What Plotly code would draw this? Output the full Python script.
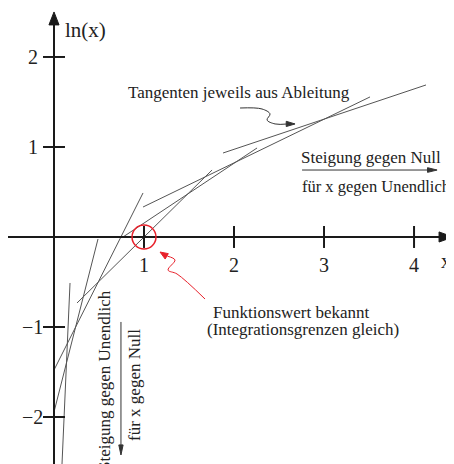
import plotly.graph_objects as go

# ---- data (data units) ----
x_ticks = [1, 2, 3, 4]
x_tick_labels = ["1", "2", "3", "4"]
y_ticks = [2, 1, -1, -2]
y_tick_labels = ["2", "1", "\u22121", "\u22122"]

# tangent segments: start / end points
tan_x0 = [1.878, 0.989, 0.767, 0.256, 0.0, 0.0, 0.178]
tan_y0 = [0.933, 0.333, 0.0, -0.733, -1.478, -1.944, -0.511]
tan_x1 = [4.133, 3.511, 2.256, 1.756, 0.989, 0.489, 0.089]
tan_y1 = [1.689, 1.556, 0.989, 0.744, 0.489, -0.022, -2.522]

# known function value ln(1) = 0
known_x = [1.0]
known_y = [0.0]

# curly annotation paths
tangent_arrow_x = [2.067, 2.311, 2.40, 2.367, 2.456, 2.60]
tangent_arrow_y = [1.433, 1.422, 1.367, 1.300, 1.256, 1.256]
red_arrow_x = [1.678, 1.367, 1.267, 1.344, 1.26]
red_arrow_y = [-0.689, -0.411, -0.367, -0.256, -0.213]

# the page adds an 8px body margin, so the figure is 8px smaller
W, H = 446, 456
XR = [-0.511, 4.444]
YR = [-2.522, 2.544]
FONT = "Liberation Serif"
TXT = "#222222"
AX = "#1a1a1a"

fig = go.Figure()

# tangent lines
for a, b, c, d in zip(tan_x0, tan_y0, tan_x1, tan_y1):
    fig.add_trace(go.Scatter(x=[a, c], y=[b, d], mode="lines",
                             line=dict(color="#555555", width=1), hoverinfo="skip"))

# curly black arrow
fig.add_trace(go.Scatter(x=tangent_arrow_x, y=tangent_arrow_y, mode="lines",
                         line=dict(color="#333333", width=1, shape="spline"), hoverinfo="skip"))
# curly red arrow
fig.add_trace(go.Scatter(x=red_arrow_x, y=red_arrow_y, mode="lines",
                         line=dict(color="#e8202a", width=1, shape="spline"), hoverinfo="skip"))

shapes = []
# axes
shapes.append(dict(type="line", x0=0, y0=YR[0], x1=0, y1=2.40, line=dict(color=AX, width=2)))
shapes.append(dict(type="line", x0=-0.52, y0=0, x1=4.33, y1=0, line=dict(color=AX, width=2)))
# arrowheads of axes
shapes.append(dict(type="path", path="M 0 2.5 L -0.056 2.356 L 0.056 2.356 Z",
                   fillcolor=AX, line=dict(color=AX, width=1)))
shapes.append(dict(type="path", path="M 4.433 0 L 4.278 0.056 L 4.278 -0.056 Z",
                   fillcolor=AX, line=dict(color=AX, width=1)))
# ticks
for t in x_ticks:
    shapes.append(dict(type="line", x0=t, x1=t, y0=-0.122, y1=0.122, line=dict(color=AX, width=2)))
for t in y_ticks:
    shapes.append(dict(type="line", x0=-0.122, x1=0.122, y0=t, y1=t, line=dict(color=AX, width=2)))
# red circle
for cx, cy in zip(known_x, known_y):
    shapes.append(dict(type="circle", x0=cx - 0.133, x1=cx + 0.133, y0=cy - 0.133, y1=cy + 0.133,
                       line=dict(color="#e8202a", width=1.5)))
# "Steigung gegen Null" arrow
shapes.append(dict(type="line", x0=2.756, y0=0.744, x1=4.20, y1=0.744, line=dict(color="#333333", width=1)))
shapes.append(dict(type="path", path="M 4.256 0.744 L 4.15 0.77 L 4.15 0.718 Z",
                   fillcolor="#333333", line=dict(color="#333333", width=1)))
# vertical arrow
shapes.append(dict(type="line", x0=0.744, y0=-0.944, x1=0.744, y1=-2.35, line=dict(color="#333333", width=1)))
shapes.append(dict(type="path", path="M 0.744 -2.422 L 0.72 -2.31 L 0.768 -2.31 Z",
                   fillcolor="#333333", line=dict(color="#333333", width=1)))
# curly arrow head (black)
shapes.append(dict(type="path", path="M 2.678 1.256 L 2.58 1.285 L 2.58 1.227 Z",
                   fillcolor="#333333", line=dict(color="#333333", width=1)))
# red arrow head
shapes.append(dict(type="path", path="M 1.178 -0.167 L 1.27 -0.185 L 1.235 -0.245 Z",
                   fillcolor="#e8202a", line=dict(color="#e8202a", width=1)))

ann = []
def txt(x, y, s, size, xanchor="center", angle=0, color=TXT):
    ann.append(dict(x=x, y=y, text=s, showarrow=False, xanchor=xanchor, yanchor="middle",
                    textangle=angle, borderpad=0, font=dict(family=FONT, size=size, color=color)))

for t, lab in zip(x_ticks, x_tick_labels):
    txt(t, -0.311, lab, 20)
for t, lab in zip(y_ticks, y_tick_labels):
    txt(-0.17 if t > 0 else -0.11, t, lab, 20, xanchor="right")
txt(0.11, 2.30, "ln(x)", 21, xanchor="left")
txt(4.36, -0.267, "x", 20)
txt(2.05, 1.61, "Tangenten jeweils aus Ableitung", 17)
txt(3.522, 0.878, "Steigung gegen Null", 17)
txt(3.585, 0.556, "f\u00fcr x gegen Unendlich", 16.5)
txt(1.756, -0.835, "Funktionswert bekannt", 17, xanchor="left")
txt(1.689, -1.03, "(Integrationsgrenzen gleich)", 17, xanchor="left")
txt(0.556, -1.60, "Steigung gegen Unendlich", 17, angle=-90)
txt(0.90, -1.644, "f\u00fcr x gegen Null", 17, angle=-90)

fig.update_layout(
    width=W, height=H,
    margin=dict(l=0, r=0, t=0, b=0),
    paper_bgcolor="white", plot_bgcolor="white",
    showlegend=False,
    xaxis=dict(range=XR, visible=False, fixedrange=True),
    yaxis=dict(range=YR, visible=False, fixedrange=True),
    shapes=shapes, annotations=ann,
)
fig.write_html("out.html")
